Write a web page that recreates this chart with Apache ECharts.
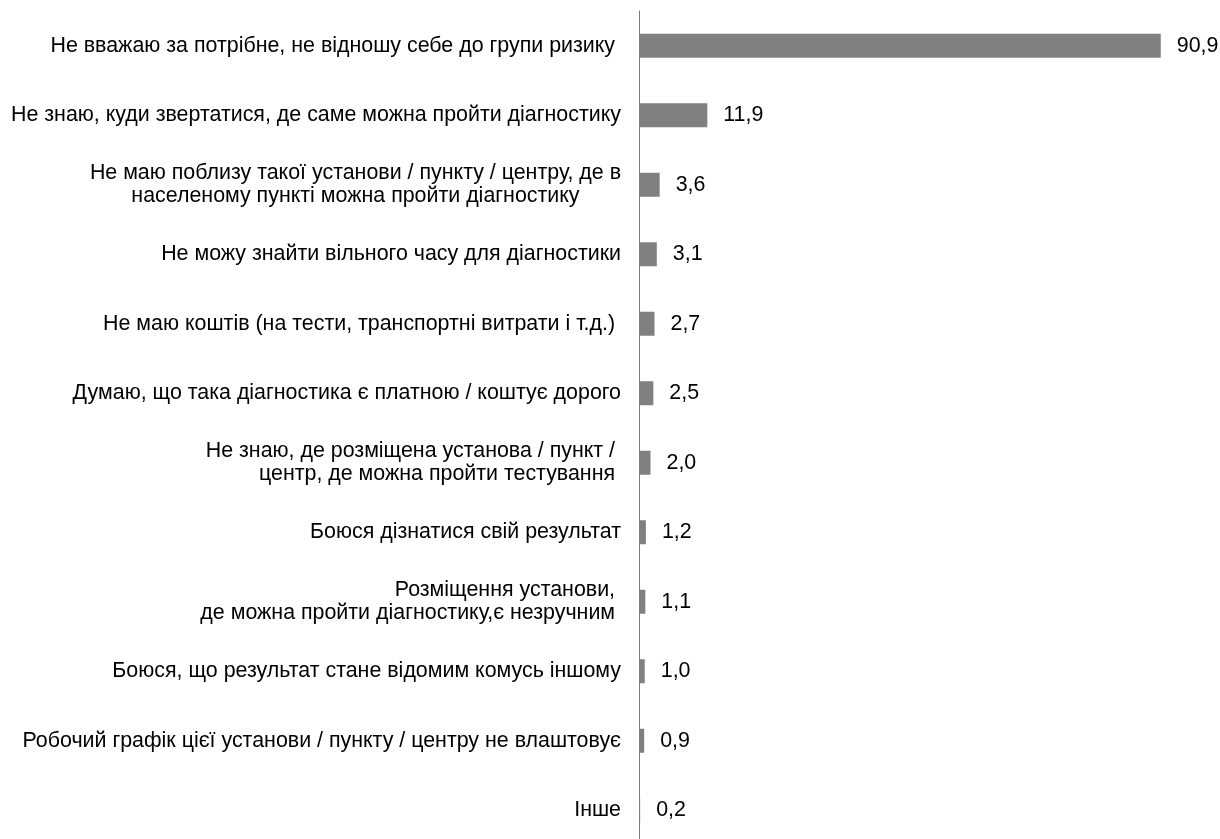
<!DOCTYPE html>
<html>
<head>
<meta charset="utf-8">
<script src="https://cdn.jsdelivr.net/npm/echarts@6/dist/echarts.min.js"></script>
<style>
  html, body { margin: 0; padding: 0; background: #ffffff; overflow: hidden; }
  #chart { width: 1220px; height: 852px; }
</style>
</head>
<body>
<div id="chart"></div>
<script>
// Reasons for not getting tested, % of respondents
const categories = [
  'Не вважаю за потрібне, не відношу себе до групи ризику ',
  'Не знаю, куди звертатися, де саме можна пройти діагностику',
  'Не маю поблизу такої установи / пункту / центру, де в\nнаселеному пункті можна пройти діагностику',
  'Не можу знайти вільного часу для діагностики',
  'Не маю коштів (на тести, транспортні витрати і т.д.) ',
  'Думаю, що така діагностика є платною / коштує дорого',
  'Не знаю, де розміщена установа / пункт / \nцентр, де можна пройти тестування ',
  'Боюся дізнатися свій результат',
  'Розміщення установи, \nде можна пройти діагностику,є незручним ',
  'Боюся, що результат стане відомим комусь іншому',
  'Робочий графік цієї установи / пункту / центру не влаштовує',
  'Інше'
];
const values = [90.9, 11.9, 3.6, 3.1, 2.7, 2.5, 2.0, 1.2, 1.1, 1.0, 0.9, 0.2];

// labels whose wrapped lines are centred on each other
const centredLabels = [2];

const FONT = "'Liberation Sans', Arial, sans-serif";
const FS = 21.4;
const LH = 23.5;

const chart = echarts.init(document.getElementById('chart'), null, { renderer: 'canvas' });

chart.setOption({
  animation: false,
  backgroundColor: '#ffffff',
  grid: { left: 639, top: 11, width: 574, height: 834, containLabel: false },
  xAxis: {
    type: 'value', min: 0, max: 100,
    show: false
  },
  yAxis: {
    type: 'category',
    data: categories,
    inverse: true,
    axisLine: { show: true, lineStyle: { color: '#7a7a7a', width: 1 } },
    axisTick: { show: false },
    splitLine: { show: false },
    axisLabel: {
      margin: 18,
      color: '#000000',
      fontSize: FS,
      fontFamily: FONT,
      lineHeight: LH,
      align: 'right',
      formatter: function (val, idx) {
        if (centredLabels.indexOf(idx) >= 0) {
          return val.split('\n').map(function (l) { return '{c|' + l + '}'; }).join('\n');
        }
        return val;
      },
      rich: {
        c: { align: 'center', fontSize: FS, fontFamily: FONT, lineHeight: LH, color: '#000000' }
      }
    }
  },
  series: [{
    type: 'bar',
    data: values,
    barWidth: 24,
    itemStyle: { color: '#808080' },
    label: {
      show: true,
      position: 'right',
      distance: 16,
      color: '#000000',
      fontSize: FS,
      fontFamily: FONT,
      formatter: function (p) { return p.value.toFixed(1).replace('.', ','); }
    }
  }]
});
</script>
</body>
</html>
